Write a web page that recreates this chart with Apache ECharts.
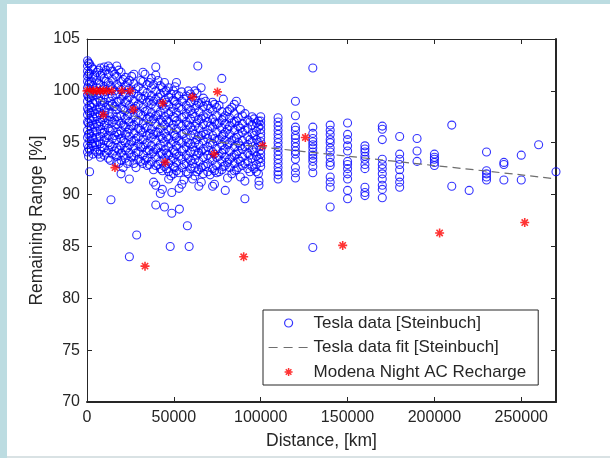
<!DOCTYPE html>
<html>
<head>
<meta charset="utf-8">
<script src="https://cdn.jsdelivr.net/npm/echarts@6/dist/echarts.min.js"></script>
<style>
  html, body { margin: 0; padding: 0; background: #fff; }
  #chart { width: 610px; height: 458px; }
</style>
</head>
<body>
<div id="chart"></div>
<script>
// ---- Data ----
const xTicks = [0, 50000, 100000, 150000, 200000, 250000];
const yTicks = [70, 75, 80, 85, 90, 95, 100, 105];

// Tesla data [Steinbuch], below 100000 km: [distance, list of remaining range values]
const teslaNear = [
  [300, [102.9,102.4,101.9,101.4,100.9,100.3,99.6,99.0,98.3,97.7,97.0,96.2,95.5,94.8,94.1]],
  [1500, [102.6,101.7,100.8,99.9,99.3,98.6,97.9,97.3,96.6,95.9,95.2,94.3,92.2]],
  [3400, [102.1,101.3,100.5,99.5,98.8,98.0,97.4,96.8,96.0,95.4,94.7,93.9]],
  [5600, [101.8,101.0,100.3,99.6,98.9,98.2,97.5,96.8,96.1,95.5,94.8,94.1]],
  [7700, [102.2,101.5,100.6,99.8,99.0,98.4,97.7,97.0,96.3,95.6,94.9,94.2,93.6]],
  [9900, [102.3,101.2,100.4,99.6,98.9,98.1,97.4,96.7,96.0,95.2,94.5,93.8]],
  [12300, [102.4,101.6,100.8,99.3,98.6,97.9,97.1,96.4,95.7,95.0,94.3,93.5]],
  [13800, [89.5]],
  [14600, [101.9,101.1,100.2,99.5,98.7,97.8,97.0,96.2,95.4,94.6,93.9]],
  [17100, [102.4,101.4,100.6,99.7,98.9,98.2,97.5,96.8,96.0,95.3,94.5,93.7,93.1]],
  [19600, [101.8,100.9,100.1,99.2,98.4,97.6,96.9,96.1,95.4,94.7,94.0,93.3,92.0]],
  [22100, [101.3,100.5,99.7,98.9,98.1,97.3,96.5,95.8,95.0,94.3,93.5]],
  [24400, [101.0,100.2,99.4,98.6,97.8,97.0,96.3,95.6,94.8,94.0,93.2,91.5,84.0]],
  [27000, [101.6,100.7,99.8,99.0,98.3,97.5,96.7,95.9,95.2,94.5,93.7,93.0]],
  [28600, [86.1]],
  [29600, [100.4,99.5,98.7,97.9,97.1,96.4,95.6,94.9,94.1,93.4]],
  [32200, [101.8,100.9,100.0,99.2,98.4,97.6,96.8,96.0,95.3,94.6,93.8,93.0]],
  [34600, [100.6,99.8,98.9,98.1,97.3,96.5,95.7,95.0,94.2,93.5,92.8]],
  [37100, [101.2,100.3,99.5,98.7,97.9,97.1,96.3,95.5,94.7,93.9,93.2]],
  [39600, [102.3,101.5,100.0,99.2,98.4,97.6,96.8,96.0,95.2,94.4,93.6,92.8,90.9,89.0]],
  [42200, [100.5,99.7,98.8,98.0,97.2,96.4,95.6,94.8,94.0,93.2,92.5,90.1]],
  [44600, [100.8,99.9,99.1,98.3,97.5,96.7,95.9,95.1,94.3,93.5,92.7,88.8]],
  [47000, [100.3,99.4,98.6,97.8,97.0,96.2,95.4,94.6,93.8,93.0,92.2,91.5]],
  [47900, [85.0]],
  [48800, [90.2,88.2]],
  [49700, [100.0,99.1,98.3,97.5,96.7,95.9,95.1,94.3,93.5,92.7,92.0]],
  [51500, [100.8,99.6,98.7,97.9,97.1,96.3,95.5,94.7,93.9,93.1,92.3]],
  [53200, [88.6]],
  [54600, [99.9,99.0,98.2,97.4,96.6,95.8,95.0,94.2,93.4,92.6,91.0]],
  [57100, [99.5,98.6,97.8,97.0,96.2,95.4,94.6,93.8,93.0,92.2]],
  [57800, [87.0]],
  [58800, [85.0]],
  [59600, [99.7,98.9,98.1,97.3,96.5,95.7,94.9,94.1,93.3,92.5]],
  [62100, [100.0,99.1,98.3,97.5,96.6,95.8,95.0,94.2,93.4,92.6,91.8]],
  [63800, [102.4]],
  [64400, [98.8,98.0,97.2,96.4,95.6,94.8,94.0,93.2,92.4,90.8]],
  [65700, [100.3]],
  [67000, [99.3,98.5,97.6,96.8,96.0,95.2,94.4,93.6,92.8,92.0]],
  [69500, [98.6,97.8,97.0,96.2,95.4,94.6,93.8,93.0,92.2]],
  [72300, [98.9,98.1,97.3,96.5,95.7,94.9,94.1,93.3,92.5,90.8]],
  [74600, [98.4,97.6,96.8,96.0,95.2,94.4,93.6,92.8,92.1]],
  [77600, [101.2,98.0,97.2,96.4,95.6,94.8,94.0,93.2,92.4]],
  [79600, [97.6,96.8,96.0,95.2,94.4,93.6,92.8,90.4]],
  [82100, [98.2,97.4,96.6,95.8,95.0,94.2,93.4,92.6]],
  [84800, [98.7,97.8,97.0,96.2,95.4,94.6,93.8,93.0,92.3]],
  [87100, [97.4,96.6,95.8,95.0,94.2,93.4,92.6]],
  [89500, [97.6,96.8,96.0,95.2,94.4,93.6,92.8]],
  [90900, [91.3,89.6]],
  [92500, [97.2,96.4,95.6,94.8,94.0,93.2,92.5]],
  [95000, [97.5,96.7,95.9,95.1,94.3,93.5,92.7]],
  [97500, [96.9,96.1,95.3,94.5,93.7,92.9,92.2]],
  [99000, [91.3,90.9]]
];

// Tesla data [Steinbuch], more points that fill the dense cloud below 100000 km
const teslaNearFill = [
  [900, [102.7,101.6,100.6,99.4,98.1,96.9,95.8,94.5,93.7]],
  [2600, [102.3,100.9,99.8,98.4,97.1,95.6,94.9]],
  [4500, [101.5,100.0,99.1,97.8,96.5,95.0,94.3]],
  [6700, [102.0,100.7,99.3,97.9,96.6,95.1,93.9]],
  [8800, [101.7,100.1,98.6,97.2,95.9,94.6]],
  [11000, [102.0,100.9,99.9,98.4,96.9,95.5,94.0]],
  [13400, [102.2,100.5,99.0,97.5,96.1,94.8,93.3]],
  [15900, [101.6,100.0,98.5,97.2,95.7,94.2]],
  [18300, [102.0,100.4,99.0,97.1,95.8,94.3,93.0]],
  [20800, [101.1,99.5,98.2,96.7,95.2,93.8,92.6]],
  [23300, [100.8,99.1,97.6,96.0,94.5,93.0]],
  [25700, [101.4,99.9,98.2,96.6,95.1,93.6]],
  [28200, [100.2,98.5,97.0,95.4,94.0,92.6]],
  [30900, [101.0,99.3,97.7,96.2,94.6,93.2]],
  [33400, [101.6,99.5,98.0,96.4,94.8,93.3]],
  [35900, [100.8,99.1,97.5,95.9,94.3,92.9]],
  [38300, [100.6,99.0,97.3,95.8,94.1,92.4,91.2]],
  [40900, [101.0,99.4,97.7,96.0,94.5,92.9]],
  [43400, [100.3,98.6,97.0,95.4,93.9,92.3,90.5]],
  [45800, [100.0,98.9,97.2,95.6,94.0,92.5]],
  [48300, [99.7,98.0,96.4,94.9,93.3,91.8]],
  [50600, [100.4,99.0,97.4,95.7,94.1,92.6]],
  [53000, [99.5,98.4,96.8,95.2,93.7,92.1,90.6]],
  [55800, [99.2,97.5,95.9,94.4,92.9,91.4]],
  [58300, [100.0,98.3,96.7,95.0,93.5,92.0]],
  [60800, [99.4,97.8,96.2,94.6,93.0,91.5]],
  [63300, [99.8,98.6,96.9,95.3,93.8,92.2]],
  [65800, [98.9,97.3,95.7,94.2,92.6,91.2]],
  [68300, [99.0,97.4,95.8,94.2,92.7]],
  [70900, [98.3,96.6,95.0,93.5,91.9]],
  [73400, [98.7,97.0,95.4,93.9,92.3,91.0]],
  [76000, [98.6,96.9,95.3,93.7,92.2]],
  [78500, [99.2,97.4,95.8,94.3,92.7]],
  [80900, [98.0,96.3,94.8,93.1,91.6]],
  [83400, [98.4,96.9,95.2,93.6,92.0]],
  [86000, [99.0,97.1,95.5,93.9,92.4]],
  [88300, [98.2,96.4,94.7,93.2,91.7]],
  [91000, [97.8,96.2,94.6,93.0]],
  [93800, [97.0,95.3,93.8,92.2]],
  [96200, [97.3,95.7,94.1,92.5]],
  [98700, [97.1,96.5,95.0,93.4,92.0]]
];

// Tesla data [Steinbuch], columns from 100000 km on
const teslaFar = [
  [100000, [97.5,97.1,96.7,96.3,95.9,95.5,95.1,94.7,94.3,93.9,93.5,93.1,92.7]],
  [110000, [97.4,97.0,96.6,96.2,95.8,95.4,95.0,94.6,94.2,93.8,93.4,93.0,92.6,92.2,91.9,91.5]],
  [120000, [99.0,97.6,96.5,96.2,95.7,95.4,95.0,94.6,94.2,93.9,93.4,92.6,92.1,91.6]],
  [130000, [102.2,96.5,95.9,95.4,95.1,94.8,94.5,94.1,93.8,93.5,93.2,92.7,92.1,84.9]],
  [140000, [96.7,96.2,95.8,95.3,95.0,94.5,94.1,93.6,93.1,92.8,91.7,91.2,90.7,88.8]],
  [150000, [96.9,95.8,95.3,94.7,94.2,93.2,92.9,92.5,92.0,91.5,90.4,89.6]],
  [160000, [94.7,94.4,94.1,93.7,93.4,92.9,92.5,90.7,90.2,89.9]],
  [170000, [96.6,96.3,95.3,93.4,92.9,92.5,92.0,91.5,90.9,90.5,89.7]],
  [180000, [95.6,93.9,93.4,92.9,92.4,91.7,91.2,90.7]],
  [190000, [95.4,94.2,93.2]],
  [200000, [93.9,93.6,93.4,93.1,92.8]],
  [210000, [96.7,90.8]],
  [220000, [90.4]],
  [230000, [94.1,92.3,92.0,91.7,91.4]],
  [240000, [93.1,92.9,91.4]],
  [250000, [93.8,91.4]],
  [260000, [94.8]],
  [270000, [92.2]]
];

// Tesla data fit [Steinbuch]
const fitDistance = [0, 10000, 20000, 35000, 50000, 75000, 100000, 150000, 200000, 250000, 270000];
const fitRange    = [99.9, 98.9, 98.1, 97.0, 96.2, 95.1, 94.6, 93.7, 92.8, 91.9, 91.5];

// Modena Night AC Recharge
const modenaDistance = [0, 1700, 3600, 5600, 7500, 9400, 11300, 14200, 20000, 24800,
  9400, 26700, 43600, 60700, 75100, 101100, 73200, 45000, 16100, 33400, 90200,
  125700, 147200, 203000, 252000];
const modenaRange = [100, 100, 100, 100, 100, 100, 100, 100, 100, 100,
  97.7, 98.2, 98.8, 99.4, 99.9, 94.7, 93.9, 93.1, 92.6, 83.1, 84.0,
  95.5, 85.1, 86.3, 87.3];

// ---- Build series data ----
const teslaPoints = [];
[teslaNear, teslaNearFill, teslaFar].forEach(group => group.forEach(col => {
  col[1].forEach(v => teslaPoints.push([col[0], v]));
}));
const fitPoints = fitDistance.map((d, i) => [d, fitRange[i]]);
const modenaPoints = modenaDistance.map((d, i) => [d, modenaRange[i]]);

const FONT = '"Liberation Sans", Arial, Helvetica, sans-serif';
const TXT = '#262626';
const BLUE = '#0000ff';
const RED = '#ff0000';
const FITC = '#6e6e6e';
const ASTERISK = 'path://M5 0L5 10M0 5L10 5M1.5 1.5L8.5 8.5M8.5 1.5L1.5 8.5';

const chart = echarts.init(document.getElementById('chart'), null, { renderer: 'canvas' });

const baseX = {
  type: 'value', min: 0, max: 270000, interval: 50000,
  splitLine: { show: false },
  axisTick: { show: true, inside: true, length: 5, lineStyle: { color: TXT, width: 1 } }
};
const baseY = {
  type: 'value', min: 70, max: 105, interval: 5,
  splitLine: { show: false },
  axisTick: { show: true, inside: true, length: 5, lineStyle: { color: TXT, width: 1 } }
};

chart.setOption({
  animation: false,
  backgroundColor: '#ffffff',
  grid: { left: 87, right: 54, top: 39, bottom: 56 },
  graphic: [
    { type: 'rect', shape: { x: 0, y: 0, width: 610, height: 4 }, style: { fill: '#bcdce1' }, silent: true },
    { type: 'rect', shape: { x: 0, y: 0, width: 7, height: 458 }, style: { fill: '#bcdce1' }, silent: true },
    { type: 'rect', shape: { x: 7, y: 456, width: 603, height: 2 }, style: { fill: '#d9e2e4' }, silent: true }
  ],
  xAxis: [
    Object.assign({}, baseX, {
      position: 'bottom',
      name: 'Distance, [km]', nameLocation: 'middle', nameGap: 30,
      nameTextStyle: { fontFamily: FONT, fontSize: 17.5, color: TXT },
      axisLine: { show: true, onZero: false, lineStyle: { color: TXT, width: 2 } },
      axisLabel: {
        margin: 8, fontFamily: FONT, fontSize: 16, color: TXT,
        formatter: v => (xTicks.indexOf(v) >= 0 ? String(v) : '')
      }
    }),
    Object.assign({}, baseX, {
      position: 'top',
      axisLine: { show: true, onZero: false, lineStyle: { color: TXT, width: 1 } },
      axisLabel: { show: false }
    })
  ],
  yAxis: [
    Object.assign({}, baseY, {
      position: 'left',
      name: 'Remaining Range [%]', nameLocation: 'middle', nameGap: 41,
      nameMoveOverlap: false,
      nameTextStyle: { fontFamily: FONT, fontSize: 17.5, color: TXT },
      axisLine: { show: true, onZero: false, lineStyle: { color: TXT, width: 1 } },
      axisLabel: {
        margin: 7, fontFamily: FONT, fontSize: 16, color: TXT,
        formatter: v => (yTicks.indexOf(v) >= 0 ? String(v) : '')
      }
    }),
    Object.assign({}, baseY, {
      position: 'right',
      axisLine: { show: true, onZero: false, lineStyle: { color: TXT, width: 2 } },
      axisLabel: { show: false }
    })
  ],
  legend: {
    orient: 'vertical',
    left: 263, top: 310,
    padding: [4, 12, 4, 5],
    itemGap: 6.5,
    itemWidth: 40, itemHeight: 8,
    backgroundColor: '#ffffff',
    borderColor: TXT, borderWidth: 1,
    textStyle: { fontFamily: FONT, fontSize: 17, color: TXT, lineHeight: 18 },
    data: [
      { name: 'Tesla data [Steinbuch]', icon: 'circle',
        itemStyle: { color: 'rgba(0,0,0,0)', borderColor: BLUE, borderWidth: 1.2 } },
      { name: 'Tesla data fit [Steinbuch]',
        itemStyle: { color: 'rgba(0,0,0,0)', borderColor: 'rgba(0,0,0,0)', borderWidth: 0, opacity: 0 },
        lineStyle: { color: FITC, width: 1.2, type: [9, 6] } },
      { name: 'Modena Night AC Recharge', icon: ASTERISK,
        itemStyle: { color: RED, borderColor: RED, borderWidth: 1.5 } }
    ]
  },
  series: [
    {
      name: 'Tesla data [Steinbuch]',
      type: 'scatter',
      xAxisIndex: 0, yAxisIndex: 0,
      symbol: 'circle', symbolSize: 8,
      itemStyle: { color: 'rgba(0,0,0,0)', borderColor: BLUE, borderWidth: 1.1 },
      data: teslaPoints,
      clip: false
    },
    {
      name: 'Tesla data fit [Steinbuch]',
      type: 'line',
      xAxisIndex: 0, yAxisIndex: 0,
      symbol: 'none', smooth: 0.3,
      lineStyle: { color: FITC, width: 1.2, type: [8, 5] },
      itemStyle: { color: FITC },
      data: fitPoints
    },
    {
      name: 'Modena Night AC Recharge',
      type: 'scatter',
      xAxisIndex: 0, yAxisIndex: 0,
      symbol: ASTERISK, symbolSize: 9,
      itemStyle: { color: RED, borderColor: RED, borderWidth: 1.6 },
      data: modenaPoints,
      clip: false
    }
  ]
});
</script>
</body>
</html>
